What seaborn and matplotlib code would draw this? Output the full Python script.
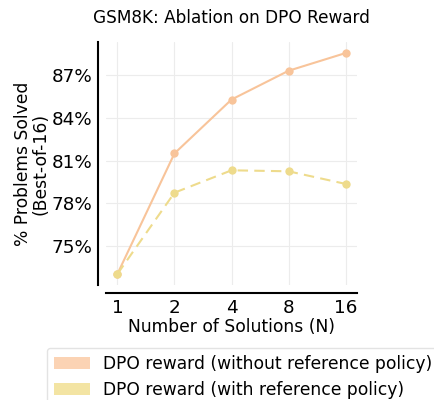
import numpy as np
import pandas as pd
import matplotlib
matplotlib.use("Agg")
import matplotlib.pyplot as plt
import seaborn as sns
from matplotlib.patches import Patch
from matplotlib.ticker import FuncFormatter

n_solutions = [1, 2, 4, 8, 16]
without_ref = [73.0, 81.5, 85.3, 87.33, 88.58]
with_ref = [73.0, 78.73, 80.31, 80.24, 79.35]
labels = ["DPO reward (without reference policy)", "DPO reward (with reference policy)"]
colors = ["#f8c49a", "#eedb8c"]
patch_colors = ["#fbd3b4", "#f3e4a3"]

df = pd.DataFrame({
    "N": n_solutions * 2,
    "solved": without_ref + with_ref,
    "method": [labels[0]] * 5 + [labels[1]] * 5,
})

sns.set_style("white")
plt.rcParams["text.color"] = "black"
plt.rcParams["axes.labelcolor"] = "black"
plt.rcParams["xtick.color"] = "black"
plt.rcParams["ytick.color"] = "black"

fig = plt.figure(figsize=(4.35, 4.0), dpi=100)
ax = fig.add_axes([0.2437, 0.2875, 0.577, 0.6075])

sns.lineplot(data=df, x="N", y="solved", hue="method", style="method",
             palette=colors, dashes=[(None, None), (5, 3)], markers=["o", "o"],
             markersize=6, markeredgewidth=0, linewidth=1.5, ax=ax, legend=False)

ax.set_xscale("log", base=2)
ax.set_xticks(n_solutions)
ax.set_xticklabels([str(n) for n in n_solutions])
ax.minorticks_off()
ax.set_yticks([75, 78, 81, 84, 87])
ax.yaxis.set_major_formatter(FuncFormatter(lambda v, p: f"{v:.0f}%"))
ax.grid(True, color="#ececec", linewidth=0.8)
ax.tick_params(axis="both", length=0, labelsize=13.2, pad=4)

sns.despine(ax=ax, offset=6)
for s in ["left", "bottom"]:
    ax.spines[s].set_color("black")
    ax.spines[s].set_linewidth(1.5)

ax.set_xlabel("Number of Solutions (N)", fontsize=12.3, labelpad=1)
ax.set_ylabel("% Problems Solved\n(Best-of-16)", fontsize=12.3, labelpad=1,
              linespacing=1.0)
ax.set_title("GSM8K: Ablation on DPO Reward", fontsize=12.2, pad=14)

handles = [Patch(facecolor=c, edgecolor="none") for c in patch_colors]
fig.legend(handles, labels, loc="upper left", bbox_to_anchor=(0.108, 0.13),
           fontsize=12.3, handlelength=2.1, frameon=True, edgecolor="#dddddd",
           fancybox=True, borderaxespad=0)

fig.savefig("out.png", dpi=100)
